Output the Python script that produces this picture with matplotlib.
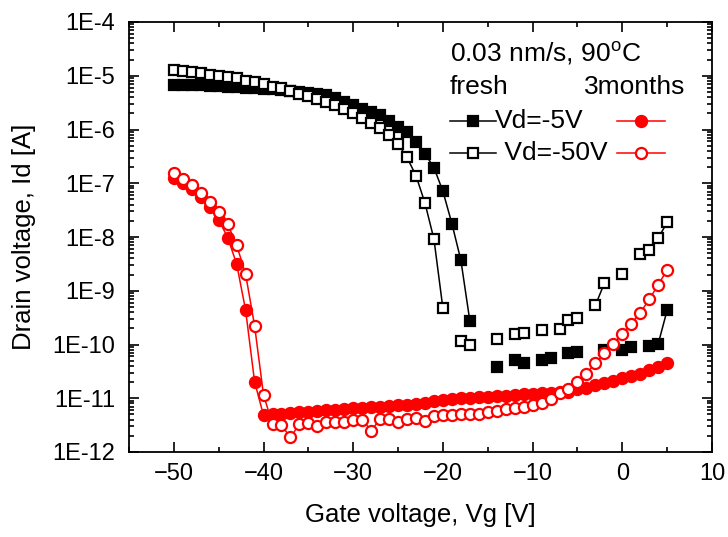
import numpy as np
import matplotlib
matplotlib.use("Agg")
import matplotlib.pyplot as plt
from matplotlib.ticker import FixedLocator, LogLocator, FuncFormatter, NullFormatter
from matplotlib.lines import Line2D

plt.rcParams['font.family'] = ['Liberation Sans', 'DejaVu Sans']
plt.rcParams['mathtext.fontset'] = 'custom'
plt.rcParams['mathtext.rm'] = 'Liberation Sans'

# Gate voltage (V), -50 ... 5 in 1 V steps
vg = list(range(-50, 6))

# log10(Id) values; None = no point
fresh_vd5_log = [
    -5.17, -5.17, -5.18, -5.18, -5.19, -5.19, -5.20, -5.21, -5.22, -5.23,   # -50..-41
    -5.24, -5.25, -5.26, -5.28, -5.30, -5.32, -5.34, -5.36, -5.42, -5.48,   # -40..-31
    -5.54, -5.61, -5.67, -5.73, -5.85, -5.95, -6.04, -6.23, -6.45, -6.71,   # -30..-21
    -7.15, -7.75, -8.43, -9.56, None, None, -10.41, None, -10.29, -10.34,   # -20..-11
    None, -10.28, -10.26, None, -10.15, -10.14, None, None, -10.10, None,   # -10..-1
    -10.10, -10.05, None, -10.03, -9.99, -9.36]                             # 0..5

fresh_vd50_log = [
    -4.89, -4.91, -4.93, -4.955, -4.98, -5.00, -5.03, -5.05, -5.09, -5.12,  # -50..-41
    -5.16, -5.20, -5.23, -5.29, -5.34, -5.38, -5.43, -5.48, -5.54, -5.62,   # -40..-31
    -5.70, -5.79, -5.87, -5.98, -6.10, -6.27, -6.52, -6.86, -7.37, -8.04,   # -30..-21
    -9.33, None, -9.94, -10.00, None, None, -9.89, None, -9.80, -9.79,      # -20..-11
    None, -9.73, None, -9.72, -9.54, -9.50, None, -9.27, -8.86, None,       # -10..-1
    -8.68, None, -8.32, -8.25, -8.02, -7.73]                                # 0..5

m3_vd5_log = [
    -6.91, -7.00, -7.11, -7.26, -7.45, -7.68, -8.01, -8.50, -9.36, -10.69,  # -50..-41
    -11.32, -11.30, -11.29, -11.27, -11.26, -11.25, -11.24, -11.22, -11.21, -11.20,  # -40..-31
    -11.19, -11.18, -11.17, -11.16, -11.15, -11.13, -11.12, -11.10, -11.08, -11.06,  # -30..-21
    -11.04, -11.02, -11.00, -10.99, -10.98, -10.97, -10.96, -10.95, -10.94, -10.93,  # -20..-11
    -10.92, -10.91, -10.90, -10.89, -10.88, -10.83, -10.80, -10.75, -10.72, -10.67,  # -10..-1
    -10.63, -10.59, -10.54, -10.47, -10.41, -10.35]                                  # 0..5

m3_vd50_log = [
    -6.80, -6.93, -7.03, -7.19, -7.34, -7.53, -7.76, -8.15, -8.69, -9.65,   # -50..-41
    -10.94, -11.48, -11.50, -11.73, -11.48, -11.46, -11.52, -11.44, -11.44, -11.44,  # -40..-31
    -11.40, -11.40, -11.60, -11.39, -11.39, -11.44, -11.39, -11.36, -11.42, -11.33,  # -30..-21
    -11.31, -11.31, -11.29, -11.29, -11.29, -11.25, -11.23, -11.20, -11.19, -11.16,  # -20..-11
    -11.13, -11.08, -11.02, -10.90, -10.82, -10.69, -10.54, -10.35, -10.16, -9.99,   # -10..-1
    -9.80, -9.61, -9.41, -9.16, -8.89, -8.61]                                        # 0..5

x_ticks = [-50, -40, -30, -20, -10, 0, 10]
y_tick_exps = [-12, -11, -10, -9, -8, -7, -6, -5, -4]


def to_current(logs):
    return np.array([np.nan if v is None else 10.0 ** v for v in logs])


fig = plt.figure(figsize=(7.28, 5.37), dpi=100)
ax = fig.add_axes([129 / 728, 1 - 452 / 537, (712 - 129) / 728, (452 - 22) / 537])

lw = 1.1
ms_sq = 7.0
ms_ci = 8.0
mew = 1.6
ax.plot(vg, to_current(fresh_vd5_log), color='black', lw=lw, marker='s', ms=ms_sq,
        mfc='black', mec='black', mew=mew, zorder=2)
ax.plot(vg, to_current(fresh_vd50_log), color='black', lw=lw, marker='s', ms=ms_sq,
        mfc='white', mec='black', mew=mew, zorder=3)
ax.plot(vg, to_current(m3_vd5_log), color='red', lw=lw, marker='o', ms=ms_ci,
        mfc='red', mec='red', mew=mew, zorder=4)
ax.plot(vg, to_current(m3_vd50_log), color='red', lw=lw, marker='o', ms=ms_ci,
        mfc='white', mec='red', mew=mew, zorder=5)

ax.set_yscale('log')
ax.set_xlim(-55, 10)
ax.set_ylim(1e-12, 1e-4)

ax.xaxis.set_major_locator(FixedLocator(x_ticks))
ax.xaxis.set_minor_locator(FixedLocator([-55, -45, -35, -25, -15, -5, 5]))
ax.yaxis.set_major_locator(FixedLocator([10.0 ** e for e in y_tick_exps]))
ax.yaxis.set_minor_locator(LogLocator(base=10, subs=np.arange(2, 10), numticks=100))
ax.yaxis.set_major_formatter(FuncFormatter(lambda v, p: "1E%d" % int(round(np.log10(v)))))
ax.yaxis.set_minor_formatter(NullFormatter())

fs_tick = 17
fs_lab = 18.5
fs_ann = 19
ax.tick_params(which='both', direction='in', top=True, right=True, width=1.2,
               labelsize=fs_tick)
ax.tick_params(which='major', length=7)
ax.tick_params(which='minor', length=3.5)
ax.tick_params(axis='y', which='both', pad=10)
ax.tick_params(axis='x', which='both', pad=8)
for s in ax.spines.values():
    s.set_linewidth(1.3)

ax.set_xlabel('Gate voltage, Vg [V]', fontsize=fs_lab)
ax.set_ylabel('Drain voltage, Id [A]', fontsize=fs_lab)
ax.xaxis.set_label_coords(0.5, (452 - 503) / 430)
ax.yaxis.set_label_coords((36 - 129) / 583, 0.5)

# legend-like annotations (axes fraction coords)
def fx(px):
    return (px - 129) / (712 - 129)

def fy(py):
    return (452 - py) / (452 - 22)

ax.text(fx(450), fy(53), '0.03 nm/s, 90$^\\mathregular{o}$C', transform=ax.transAxes,
        fontsize=fs_ann, va='center', ha='left')
ax.text(fx(450), fy(87), 'fresh', transform=ax.transAxes, fontsize=fs_ann, va='center', ha='left')
ax.text(fx(584), fy(87), '3months', transform=ax.transAxes, fontsize=fs_ann, va='center', ha='left')

rows = [(121, 's', 'black', 'black', 'Vd=-5V', 495, 'red', 'o'),
        (153, 's', 'black', 'white', ' Vd=-50V', 497, 'red', 'o')]
for py, mk, col, fc, label, tx, col2, mk2 in rows:
    ax.add_line(Line2D([fx(450), fx(496)], [fy(py), fy(py)], transform=ax.transAxes,
                       color=col, lw=lw, marker=None))
    ax.add_line(Line2D([fx(473)], [fy(py)], transform=ax.transAxes, color=col, lw=0,
                       marker=mk, ms=ms_sq, mfc=fc, mec=col, mew=mew))
    ax.text(fx(tx), fy(py), label, transform=ax.transAxes, fontsize=fs_ann, va='center', ha='left')
    ax.add_line(Line2D([fx(617), fx(665)], [fy(py), fy(py)], transform=ax.transAxes,
                       color=col2, lw=lw))
    ax.add_line(Line2D([fx(641)], [fy(py)], transform=ax.transAxes, color=col2, lw=0,
                       marker=mk2, ms=ms_ci, mfc=('red' if fc == 'black' else 'white'),
                       mec=col2, mew=mew))

fig.savefig('out.png', dpi=100)
